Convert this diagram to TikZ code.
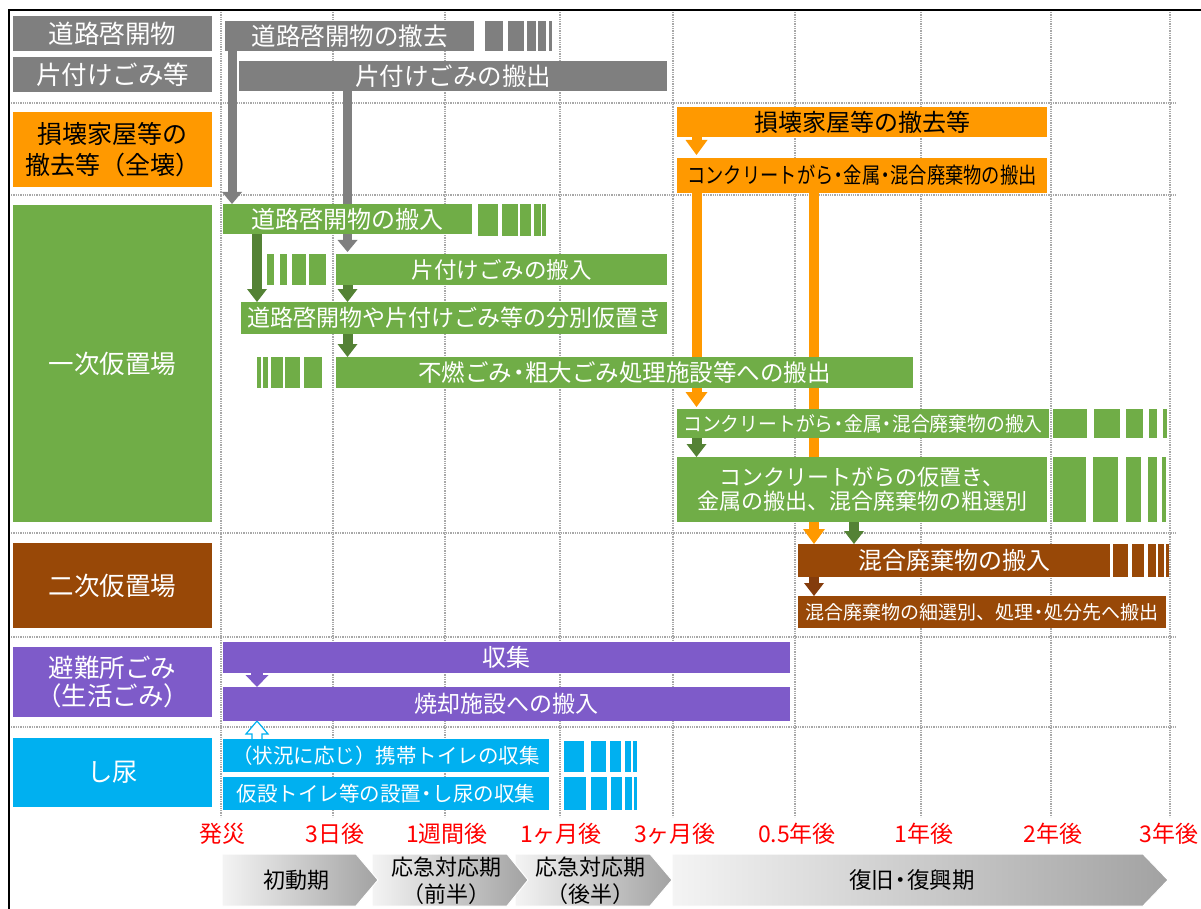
\documentclass[tikz,border=0pt]{standalone}
\usepackage{fontspec}
\setmainfont{Noto Sans CJK JP}
\usetikzlibrary{arrows.meta,calc}

\definecolor{cgray}{HTML}{7F7F7F}
\definecolor{corange}{HTML}{FF9900}
\definecolor{cgreen}{HTML}{70AD47}
\definecolor{cdgreen}{HTML}{548235}
\definecolor{cbrown}{HTML}{984807}
\definecolor{cdbrown}{HTML}{843C0C}
\definecolor{cpurple}{HTML}{7E5BC9}
\definecolor{ccyan}{HTML}{00B0F0}
\definecolor{cred}{HTML}{FF0000}
\definecolor{cgrid}{HTML}{A8A8A8}
\definecolor{phlight}{HTML}{F4F4F4}
\definecolor{phdark}{HTML}{A2A2A2}

\pgfdeclarelayer{gridlayer}
\pgfdeclarelayer{arrowlayer}
\pgfsetlayers{gridlayer,arrowlayer,main}

% bar node given by its corners: name, x1, y1, x2, y2, style, text
\newcommand\bx[7]{%
  \pgfmathsetmacro\bxw{#4-#2}\pgfmathsetmacro\bxh{#5-#3}%
  \pgfmathsetmacro\bxcx{(#2+#4)/2}\pgfmathsetmacro\bxcy{(#3+#5)/2}%
  \node[#6, minimum width=\bxw pt, minimum height=\bxh pt] (#1) at (\bxcx,\bxcy) {#7};}
% broken continuation of a bar: colour, y1, y2, list of x1/x2
\newcommand\tailblocks[4]{%
  \foreach \ta/\tb in {#4} {\fill[#1] (\ta,#2) rectangle (\tb,#3);}}
\newcommand\fsz[2]{\fontsize{#1}{#2}\selectfont}
% narrow middle dot
\newcommand\nd{\kern-0.22em・\kern-0.22em}

\begin{document}
\begin{tikzpicture}[x=1pt,y=-1pt,
  box/.style={inner sep=0pt, outer sep=0pt, align=center},
  gbox/.style={box, fill=cgray, text=white},
  obox/.style={box, fill=corange, text=black},
  grbox/.style={box, fill=cgreen, text=white},
  brbox/.style={box, fill=cbrown, text=white},
  pbox/.style={box, fill=cpurple, text=white},
  cbox/.style={box, fill=ccyan, text=white},
  cat/.style={font=\fsz{25.5}{30}},
  gridline/.style={draw=cgrid, line width=1.3pt, densely dotted},
  garr/.style={draw=cgray, line width=9pt, -{Triangle[width=20pt,length=12pt,line width=0pt]}},
  dgarr/.style={draw=cdgreen, line width=10pt, -{Triangle[width=20pt,length=13pt,line width=0pt]}},
  oarr/.style={draw=corange, line width=10pt, -{Triangle[width=22pt,length=15pt,line width=0pt]}},
  barr/.style={draw=cdbrown, line width=10pt, -{Triangle[width=20pt,length=13pt,line width=0pt]}},
  parr/.style={draw=cpurple, line width=12pt, -{Triangle[width=23pt,length=12pt,line width=0pt]}},
  hollow/.style={draw=ccyan, fill=white, line width=1.2pt, line join=miter},
  tlabel/.style={text=cred, font=\fsz{23}{26}, inner sep=0pt},
  phase/.style={shade, left color=phlight, right color=phdark, draw=white, line width=1pt},
  phtext/.style={font=\fsz{22}{27}, align=center, inner sep=0pt},
]
\useasboundingbox (0,0) rectangle (1201,909);

% grid of the time axis
\begin{pgfonlayer}{gridlayer}
  \foreach \x in {221,333,445,560,673,795,921,1051,1170}
    \draw[gridline] (\x,12) -- (\x,817);
  \foreach \y in {103,195,533,637,727}
    \draw[gridline] (11,\y) -- (1175,\y);
\end{pgfonlayer}

% frame
\draw[line width=2.5pt] (9,909) -- (9,10) -- (1201,10);

% category column
\bx{c1}{13}{16}{212}{51}{gbox,cat}{道路啓開物}
\bx{c2}{13}{57}{212}{92}{gbox,cat}{片付けごみ等}
\bx{c3}{13}{112}{212}{187}{obox,font=\fsz{25}{31}}{損壊家屋等の\\撤去等（全壊）}
\bx{c4}{13}{205}{212}{522}{grbox,cat}{一次仮置場}
\bx{c5}{13}{543}{212}{628}{brbox,cat}{二次仮置場}
\bx{c6}{13}{647}{212}{717}{pbox,font=\fsz{25.5}{28}}{避難所ごみ\\（生活ごみ）}
\bx{c7}{13}{738}{212}{807}{cbox,cat}{し尿}

% road clearance debris and household clean-up waste
\bx{rkrem}{225}{21}{474}{51}{gbox,font=\fsz{24.5}{28}}{道路啓開物の撤去}
\tailblocks{cgray}{21}{51}{485/503,508/524,527/536,538/546,549/552}
\bx{kgout}{239}{61}{667}{91}{gbox,font=\fsz{24.5}{28}}{片付けごみの搬出}

% demolition of damaged houses
\bx{sonkai}{677}{107}{1047}{137}{obox,font=\fsz{24}{28}}{損壊家屋等の撤去等}
\bx{concout}{677}{158}{1047}{193}{obox,font=\fsz{22}{26}}{\scalebox{0.83}[1]{コンクリートがら\nd 金属\nd 混合廃棄物の搬出}}

% primary temporary storage site
\bx{rkin}{223}{204}{472}{234}{grbox,font=\fsz{24}{28}}{道路啓開物の搬入}
\tailblocks{cgreen}{204}{236}{478/498,502/518,520/531,534/541,542/546}
\tailblocks{cgreen}{254}{285}{267/274,280/287,292/306,309/326}
\bx{kgin}{336}{254}{667}{285}{grbox,font=\fsz{22.5}{26}}{片付けごみの搬入}
\bx{bunbetsu}{241}{302}{667}{334}{grbox,font=\fsz{23}{27}}{道路啓開物や片付けごみ等の分別仮置き}
\tailblocks{cgreen}{357}{388}{257/261,263/268,271/283,285/300,304/322}
\bx{funen}{336}{357}{913}{388}{grbox,font=\fsz{23.5}{27}}{不燃ごみ\nd 粗大ごみ処理施設等への搬出}
\bx{concin}{677}{409}{1049}{438}{grbox,font=\fsz{20}{24}}{\scalebox{0.94}[1]{コンクリートがら\nd 金属\nd 混合廃棄物の搬入}}
\tailblocks{cgreen}{409}{438}{1053/1087,1094/1120,1126/1143,1149/1157,1163/1167}
\bx{karioki}{677}{457}{1047}{522}{grbox,font=\fsz{22}{24}}{コンクリートがらの仮置き、\\金属の搬出、混合廃棄物の粗選別}
\tailblocks{cgreen}{457}{522}{1053/1086,1093/1118,1126/1141,1148/1157,1162/1166}

% secondary temporary storage site
\bx{mixin}{798}{544}{1110}{577}{brbox,font=\fsz{24}{28}}{混合廃棄物の搬入}
\tailblocks{cbrown}{544}{577}{1113/1128,1132/1144,1148/1156,1158/1164,1166/1169}
\bx{mixout}{798}{596}{1166}{628}{brbox,font=\fsz{19}{22}}{混合廃棄物の細選別、処理\nd 処分先へ搬出}

% shelter waste
\bx{shuushu}{223}{642}{790}{673}{pbox,font=\fsz{24}{28}}{収集}
\bx{shoukyaku}{223}{687}{790}{721}{pbox,font=\fsz{23}{27}}{焼却施設への搬入}

% human waste
\bx{toilet1}{223}{739}{549}{772}{cbox,font=\fsz{20.5}{24}}{（状況に応じ）携帯トイレの収集}
\tailblocks{ccyan}{741}{772}{564/584,591/606,610/621,625/631,633/637}
\bx{toilet2}{223}{777}{549}{810}{cbox,font=\fsz{20.5}{24}}{仮設トイレ等の設置\nd し尿の収集}
\tailblocks{ccyan}{777}{810}{564/586,591/607,611/622,625/632,634/637}

% flow arrows, kept underneath the bars
\coordinate (xa) at (232,0);
\coordinate (xb) at (347.5,0);
\coordinate (xc) at (257,0);
\coordinate (xd) at (696.5,0);
\coordinate (xe) at (814,0);
\coordinate (xf) at (854,0);
\begin{pgfonlayer}{arrowlayer}
  \draw[garr] (rkrem.south -| xa) -- (rkin.north -| xa);
  \draw[garr, shorten >=2pt] (kgout.south -| xb) -- (kgin.north -| xb);
  \draw[dgarr] (rkin.south -| xc) -- (bunbetsu.north -| xc);
  \draw[dgarr] (kgin.south -| xb) -- (bunbetsu.north -| xb);
  \draw[dgarr] (bunbetsu.south -| xb) -- (funen.north -| xb);
  \draw[oarr, shorten >=3pt] (sonkai.south -| xd) -- (concout.north -| xd);
  \draw[oarr, shorten >=2pt] (concout.south -| xd) -- (concin.north -| xd);
  \draw[oarr] (concout.south -| xe) -- (mixin.north -| xe);
  \draw[dgarr] (concin.south -| xd) -- (karioki.north -| xd);
  \draw[dgarr] (karioki.south -| xf) -- (mixin.north -| xf);
  \draw[barr] (mixin.south -| xe) -- (mixout.north -| xe);
  \draw[parr] (shuushu.south -| xc) -- (shoukyaku.north -| xc);
  \draw[hollow] ($(toilet1.north -| xc)+(-5,0)$) -- ++(0,-5) -- ++(-6,0)
    -- (shoukyaku.south -| xc) -- ++(11,13) -- ++(-6,0) -- ++(0,5);
\end{pgfonlayer}

% time axis
\node[tlabel] (t0) at (222,834) {発災};
\node[tlabel] (t1) at (335,834) {3日後};
\node[tlabel] (t2) at (447,834) {1週間後};
\node[tlabel] (t3) at (561,834) {1ヶ月後};
\node[tlabel] (t4) at (675,834) {3ヶ月後};
\node[tlabel] (t5) at (797,834) {0.5年後};
\node[tlabel] (t6) at (924,834) {1年後};
\node[tlabel] (t7) at (1053,834) {2年後};
\node[tlabel] (t8) at (1169,834) {3年後};

% phases
\path[phase] (672,854) -- (1143,854) -- (1168,880) -- (1143,906) -- (672,906) -- cycle;
\path[phase] (515,854) -- (650,854) -- (672,880) -- (650,906) -- (515,906) -- cycle;
\path[phase] (372,854) -- (507,854) -- (528,880) -- (507,906) -- (372,906) -- cycle;
\path[phase] (222,854) -- (356,854) -- (378,880) -- (356,906) -- (222,906) -- cycle;
\node[phtext] (p1) at (296,880) {初動期};
\node[phtext] (p2) at (446,881) {応急対応期\\（前半）};
\node[phtext] (p3) at (590,881) {応急対応期\\（後半）};
\node[phtext, font=\fsz{22.5}{27}] (p4) at (912,880) {復旧\nd 復興期};
\end{tikzpicture}
\end{document}
